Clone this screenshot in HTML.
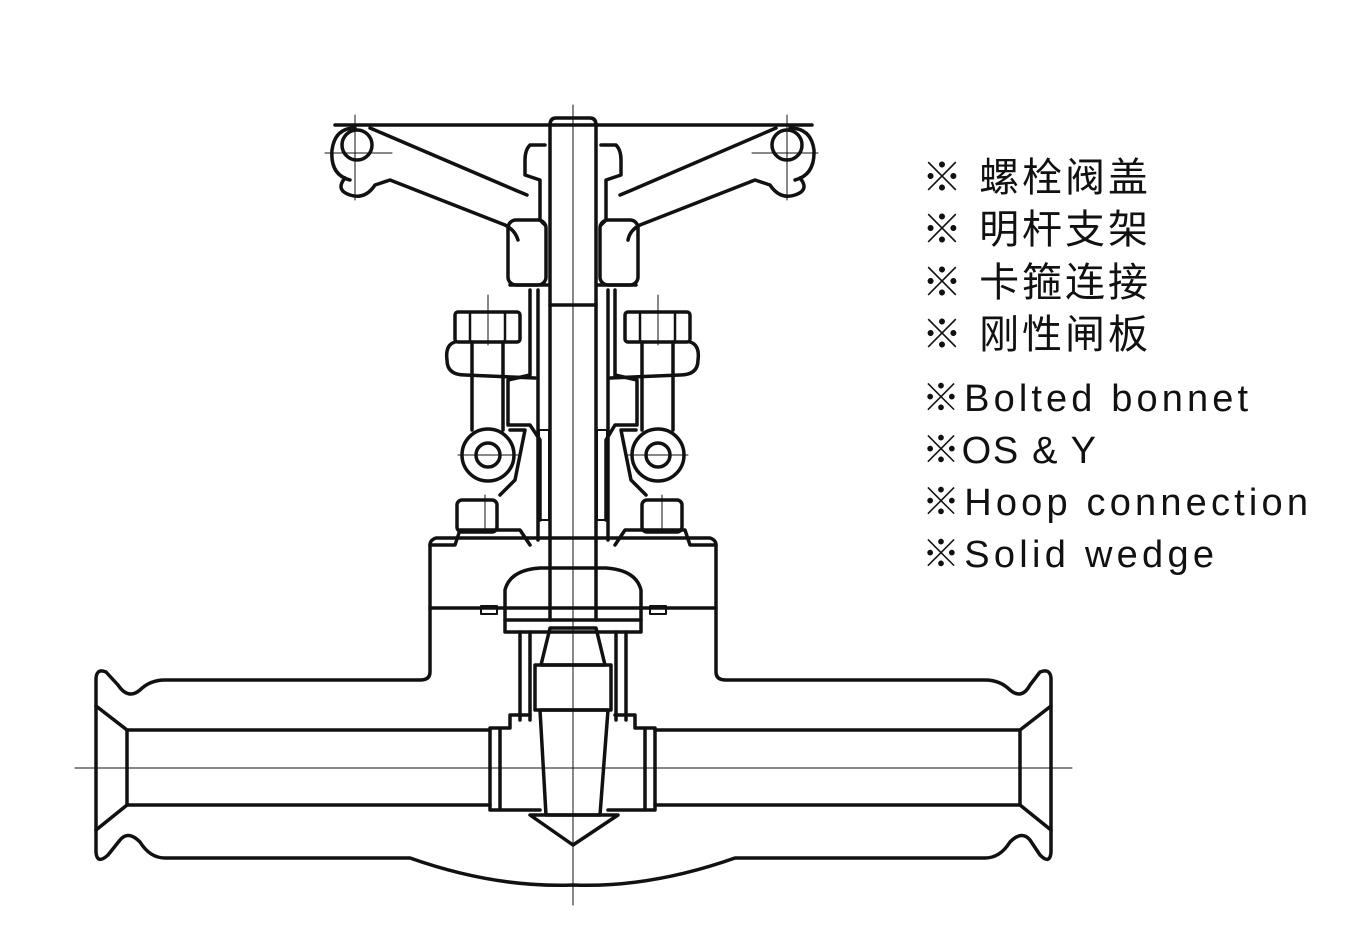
<!DOCTYPE html>
<html><head><meta charset="utf-8"><style>
html,body{margin:0;padding:0;background:#fff;}
svg{display:block}
</style></head><body>
<svg width="1359" height="934" viewBox="0 0 1359 934" xmlns="http://www.w3.org/2000/svg">
<g fill="none" stroke="#111" stroke-width="3.5" stroke-linejoin="round" stroke-linecap="round">
<g stroke-width="1">
<line x1="75" y1="768" x2="1072" y2="768"/>
<line x1="573" y1="105" x2="573" y2="905"/>
<line x1="355" y1="115" x2="355" y2="200"/><line x1="325" y1="153" x2="392" y2="153"/>
<line x1="787" y1="115" x2="787" y2="200"/><line x1="752" y1="153" x2="818" y2="153"/>
<line x1="488" y1="295" x2="488" y2="345"/><line x1="658" y1="295" x2="658" y2="345"/>
<line x1="458" y1="455" x2="518" y2="455"/><line x1="628" y1="455" x2="688" y2="455"/>
<line x1="485" y1="495" x2="485" y2="530"/><line x1="662" y1="495" x2="662" y2="530"/>
</g>
<path d="M430,545 Q430,540 436,538 L710,538 Q716,540 716,545 L716,672 Q716,680 726,680 L985,680 Q1000,680 1010,690 Q1022,700 1030,685 L1040,672 Q1050,668 1051,678 L1051,852 Q1050,865 1040,855 L1030,840 Q1022,830 1010,842 Q1000,858 985,858 L735,858 Q650,888 573,885 Q495,888 410,858 L165,858 Q150,858 140,842 Q128,830 120,840 L108,855 Q97,865 96,852 L96,678 Q97,668 106,672 L118,685 Q128,700 140,690 Q150,680 165,680 L420,680 Q430,680 430,672 Z"/>
<path d="M96,706 L127,730 L127,805 L96,830"/>
<path d="M1051,706 L1020,730 L1020,805 L1051,830"/>
<line x1="127" y1="730" x2="490" y2="730"/><line x1="127" y1="805" x2="490" y2="805"/>
<line x1="655" y1="730" x2="1020" y2="730"/><line x1="655" y1="805" x2="1020" y2="805"/>
<line x1="430" y1="608" x2="716" y2="608"/>
<path d="M490,728 L490,810 L540,810 M500,728 L500,810 M490,728 L510,728 L510,715 L530,715"/>
<path d="M655,728 L655,810 L608,810 M645,728 L645,810 M655,728 L635,728 L635,715 L615,715"/>
<path d="M540,710 L608,710 L600,815 L546,815 Z"/>
<path d="M530,815 L618,815 L573,845 Z"/>
<rect x="535" y="665" width="76" height="45"/>
<path d="M550,628 L596,628 L605,665 L541,665 Z"/>
<path d="M520,632 L520,720 M530,632 L530,720 M626,632 L626,720 M616,632 L616,720"/>
<rect x="505" y="620" width="136" height="12"/>
<path d="M505,620 L505,590 Q510,570 540,568 L606,568 Q636,570 641,590 L641,620"/>
<rect x="481" y="606" width="16" height="8" stroke-width="2"/><rect x="650" y="606" width="16" height="8" stroke-width="2"/>
<path d="M430,545 L455,545 L460,530 L520,530 L530,545"/>
<path d="M716,545 L690,545 L685,530 L625,530 L615,545"/>
<rect x="457" y="500" width="40" height="32" rx="5"/><rect x="642" y="500" width="40" height="32" rx="5"/>
<path d="M550,125 Q550,118 556,118 L590,118 Q596,118 596,125 L596,305 L550,305 Z"/>
<path d="M550,305 L550,620 M596,305 L596,620"/>
<rect x="539" y="430" width="10" height="90" stroke-width="2"/><rect x="597" y="430" width="10" height="90" stroke-width="2"/>
<path d="M530,290 L530,375 L508,380 L508,425 L530,425 L540,440 L540,520"/>
<path d="M615,290 L615,375 L637,380 L637,425 L615,425 L606,440 L606,520"/>
<path d="M538,290 L538,540 M608,290 L608,540"/>
<rect x="455" y="312" width="65" height="30" rx="3"/><rect x="625" y="312" width="65" height="30" rx="3"/>
<path d="M470,312 L470,342 M505,312 L505,342 M640,312 L640,342 M675,312 L675,342" stroke-width="2.5"/>
<path d="M455,342 Q445,345 447,360 Q447,375 465,375 L535,378 M690,342 Q700,345 698,360 Q698,375 680,375 L610,378"/>
<path d="M472,342 L472,430 M503,342 L503,430 M642,342 L642,430 M673,342 L673,430"/>
<circle cx="488" cy="455" r="26"/><circle cx="488" cy="455" r="12"/>
<circle cx="658" cy="455" r="26"/><circle cx="658" cy="455" r="12"/>
<path d="M510,430 L525,430 L515,480 L500,495 M636,430 L621,430 L631,480 L646,495"/>
<path d="M335,125 L812,125"/>
<path d="M370,128 L515,190 L527,195 M345,178 Q335,190 350,195 Q365,200 375,185 L390,180 L505,225 Q515,230 518,240"/>
<path d="M776,128 L632,190 L620,195 M800,178 Q810,190 795,195 Q780,200 770,185 L755,180 L640,225 Q630,230 628,240"/>
<path d="M350,180 Q330,175 332,150 Q335,128 355,128 M795,180 Q815,175 814,150 Q811,128 790,128"/>
<circle cx="357" cy="145" r="15"/><circle cx="787" cy="145" r="15"/>
<path d="M545,145 L530,145 Q525,150 525,160 L525,175 L540,180 L540,220 L545,225 M601,145 L616,145 Q621,150 621,160 L621,175 L606,180 L606,220 L601,225"/>
<rect x="508" y="220" width="38" height="65" rx="8"/><rect x="600" y="220" width="38" height="65" rx="8"/>
<path d="M510,285 L548,285 M598,285 L636,285"/>
</g>
<g font-family="'Liberation Sans','Noto Sans CJK SC',sans-serif" fill="#111">
<text x="922" y="191" font-size="40" textLength="226" lengthAdjust="spacing">※ 螺栓阀盖</text>
<text x="922" y="243" font-size="40" textLength="226" lengthAdjust="spacing">※ 明杆支架</text>
<text x="922" y="296" font-size="40" textLength="226" lengthAdjust="spacing">※ 卡箍连接</text>
<text x="922" y="348" font-size="40" textLength="226" lengthAdjust="spacing">※ 刚性闸板</text>
<text x="922" y="411" font-size="38" textLength="326" lengthAdjust="spacing">※Bolted bonnet</text>
<text x="922" y="463" font-size="38" textLength="174" lengthAdjust="spacing">※OS &amp; Y</text>
<text x="922" y="515" font-size="38" textLength="386" lengthAdjust="spacing">※Hoop connection</text>
<text x="922" y="567" font-size="38" textLength="292" lengthAdjust="spacing">※Solid wedge</text>
</g>
</svg>
</body></html>
